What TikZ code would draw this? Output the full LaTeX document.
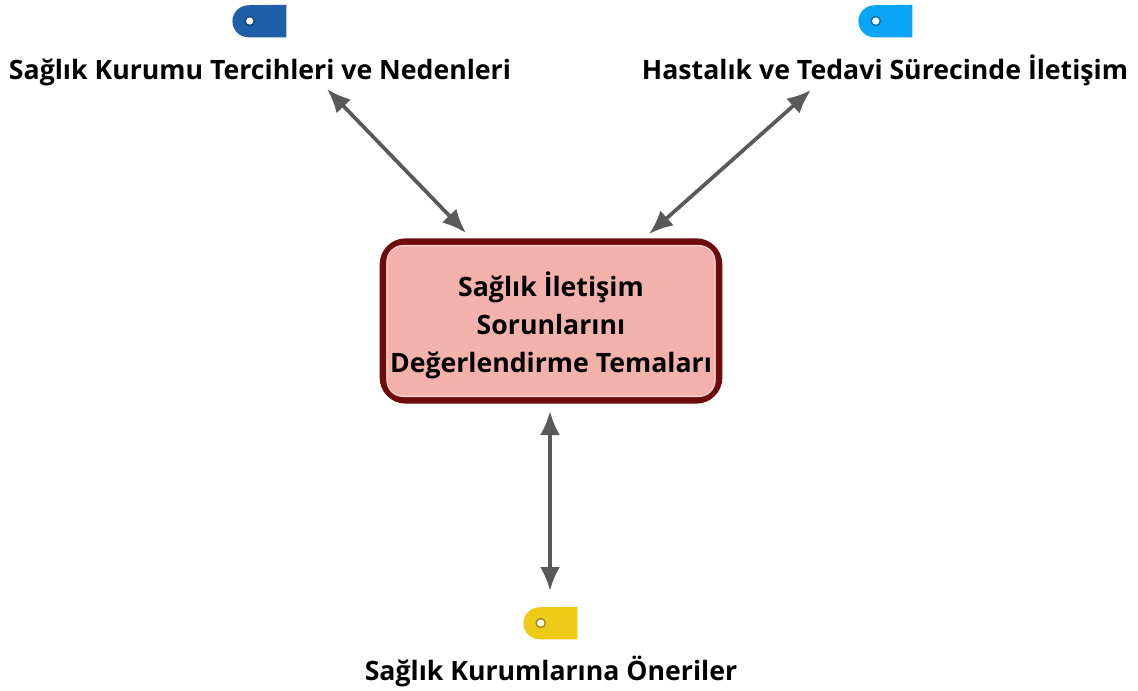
\documentclass[tikz,border=0pt]{standalone}
\usepackage{fontspec}
\setmainfont{Open Sans}
\usetikzlibrary{arrows.meta}
\definecolor{boxborder}{HTML}{6E0B0B}
\definecolor{boxfill}{HTML}{F3B1AC}
\definecolor{boxrim}{HTML}{F9D3CF}
\definecolor{linegray}{HTML}{595959}
\definecolor{tagblue}{HTML}{1F5FA8}
\definecolor{tagcyan}{HTML}{0AA5F5}
\definecolor{tagyellow}{HTML}{EFCB17}
\tikzset{
    theme/.style={font=\bfseries\fontsize{20}{24}\selectfont, text=black, inner sep=0pt, anchor=base},
    mainbox/.style={draw=boxborder, fill=boxfill, line width=5pt, rounded corners=17pt, minimum width=252pt, minimum height=119pt, align=center, font=\bfseries\fontsize{20}{28.5}\selectfont, inner sep=0pt},
    link/.style={draw=linegray, line width=2.8pt, {Latex[length=18pt,width=15pt]}-{Latex[length=18pt,width=15pt]}},
    tagbody/.style={minimum width=39pt, minimum height=24pt, inner sep=0pt}
}
% tag: name, centre, colour
\newcommand{\tagicon}[3]{
    \node[tagbody] (#1) at #2 {};
    \fill[#3] (#1.north east) -- (#1.south east) -- ([xshift=11pt]#1.south west) arc (270:90:12pt) -- cycle;
    \fill[#3!70!black] ([xshift=12pt]#1.west) circle (4pt);
    \fill[white] ([xshift=12pt]#1.west) circle (2.7pt);
}
\begin{document}
\begin{tikzpicture}[x=0.75pt, y=-0.75pt]
    \useasboundingbox (0,0) rectangle (1138,691);

    \node[mainbox] (main) at (551,321) {\rule{0pt}{25pt}Sağlık İletişim\\ Sorunlarını\\ Değerlendirme Temaları};
    \draw[boxrim, line width=1pt, rounded corners=12pt] ([xshift=5.5pt,yshift=-5.5pt]main.north west) rectangle ([xshift=-5.5pt,yshift=5.5pt]main.south east);

    \node[theme] (T1) at (260,79.5) {Sağlık Kurumu Tercihleri ve Nedenleri};
    \node[theme] (T2) at (885,79.5) {Hastalık ve Tedavi Sürecinde İletişim};
    \node[theme] (T3) at (551,680) {Sağlık Kurumlarına Öneriler};

    \tagicon{I1}{(260,21)}{tagblue}
    \tagicon{I2}{(886,21)}{tagcyan}
    \tagicon{I3}{(551,623)}{tagyellow}

    \coordinate (A1) at (327,89);
    \coordinate (B1) at (466,233);
    \coordinate (A2) at (811,90);
    \coordinate (B2) at (649,234);
    \coordinate (A3) at (550,411);
    \coordinate (B3) at (550,591);

    \draw[link] (A1) -- (B1);
    \draw[link] (A2) -- (B2);
    \draw[link] (A3) -- (B3);
\end{tikzpicture}
\end{document}
